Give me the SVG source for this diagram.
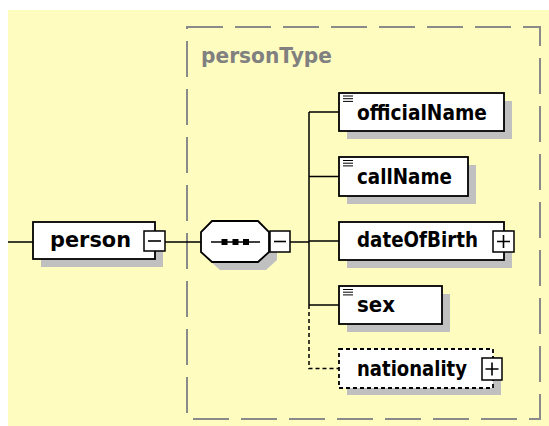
<svg xmlns="http://www.w3.org/2000/svg" width="549" height="426" viewBox="0 0 549 426">
<style>
.bg{fill:#fffcc0}
.frame{fill:none;stroke:#8a8a8a;stroke-width:2;stroke-dasharray:36 12}
.shadow{fill:#c0c0c0}
.box{fill:#fff;stroke:#000;stroke-width:1.8}
.opt{stroke-dasharray:4 3}
.btn{fill:#fff;stroke:#000;stroke-width:1.5}
.sym{stroke:#000;stroke-width:1.6;fill:none}
.conn{stroke:#000;stroke-width:1.5;fill:none}
.lbl{font-family:"DejaVu Sans","Liberation Sans",sans-serif;font-weight:bold;font-size:20.5px;fill:#000}
.type{fill:#808080}
.ico{stroke:#000;stroke-width:1}
</style>
<rect x="0" y="0" width="549" height="426" fill="#fff"/>
<rect class="bg" x="8" y="10" width="541" height="416"/>
<g id="personType">
<rect class="frame" x="187" y="27" width="353" height="392"/>
<text class="lbl type" x="201" y="63" textLength="131" lengthAdjust="spacingAndGlyphs">personType</text>
</g>
<g id="connectors">
<path class="conn" d="M8 242H33M165 242H201M290 242H309M309 112V305M309 112H339M309 176.5H339M309 241H339M309 305H339"/>
<path class="conn opt" d="M309 305V368.5H339"/>
</g>
<g id="person">
<rect class="shadow" x="41" y="230" width="122" height="37"/>
<rect class="box" x="33" y="222" width="122" height="37"/>
<text class="lbl" x="50" y="247" textLength="81" lengthAdjust="spacingAndGlyphs">person</text>
<rect class="btn" x="144" y="231" width="21" height="20"/>
<path class="sym" d="M148 241H161"/>
</g>
<g id="sequence">
<path class="shadow" d="M220 229H266L277 240V260L266 270H220L209 260V240Z"/>
<path class="box" d="M212 221H258L269 232V252L258 262H212L201 252V232Z"/>
<path class="sym" d="M211 242H260"/>
<rect x="221.5" y="239" width="6" height="6" fill="#000"/>
<rect x="232.5" y="239" width="6" height="6" fill="#000"/>
<rect x="243" y="239" width="6" height="6" fill="#000"/>
<rect class="btn" x="270" y="231" width="20" height="21"/>
<path class="sym" d="M274 241.5H286"/>
</g>
<g id="officialName">
<rect class="shadow" x="347" y="101" width="165" height="38"/>
<rect class="box" x="339" y="93" width="165" height="38"/>
<path class="ico" d="M343 96H353M343 98.7H353M343 101.4H353"/>
<text class="lbl" x="357" y="120" textLength="130" lengthAdjust="spacingAndGlyphs">officialName</text>
</g>
<g id="callName">
<rect class="shadow" x="347" y="165" width="129" height="39"/>
<rect class="box" x="339" y="157" width="129" height="39"/>
<path class="ico" d="M343 160.5H353M343 163.2H353M343 165.9H353"/>
<text class="lbl" x="357" y="184" textLength="95" lengthAdjust="spacingAndGlyphs">callName</text>
</g>
<g id="dateOfBirth">
<rect class="shadow" x="347" y="230" width="165" height="38"/>
<rect class="box" x="339" y="222" width="165" height="38"/>
<text class="lbl" x="357" y="247" textLength="121" lengthAdjust="spacingAndGlyphs">dateOfBirth</text>
<rect class="btn" x="493" y="231" width="21" height="21"/>
<path class="sym" d="M497 241.5H510M503.5 235V248"/>
</g>
<g id="sex">
<rect class="shadow" x="347" y="294" width="103" height="38"/>
<rect class="box" x="339" y="286" width="103" height="38"/>
<path class="ico" d="M343 289.5H353M343 292.2H353M343 294.9H353"/>
<text class="lbl" x="357" y="312" textLength="38" lengthAdjust="spacingAndGlyphs">sex</text>
</g>
<g id="nationality">
<rect class="shadow" x="347" y="357" width="154" height="38"/>
<rect class="box opt" x="339" y="349" width="154" height="39"/>
<text class="lbl" x="357" y="376" textLength="110" lengthAdjust="spacingAndGlyphs">nationality</text>
<rect class="btn" x="482" y="358" width="20" height="22"/>
<path class="sym" d="M485.5 369H498.5M492 362.5V375.5"/>
</g>
</svg>
